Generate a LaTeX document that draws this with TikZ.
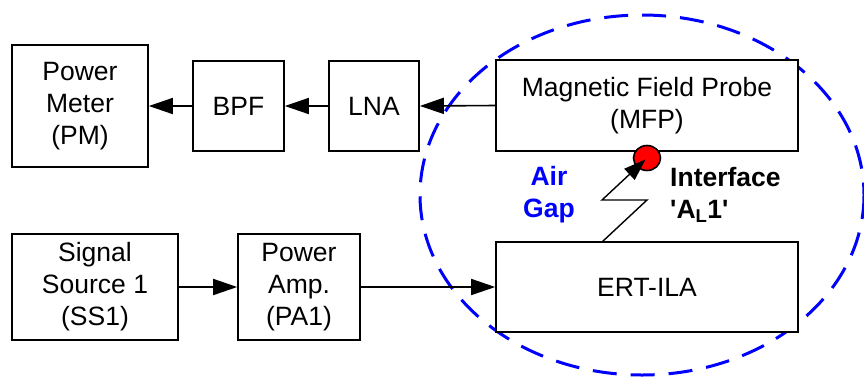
\documentclass[tikz,border=0pt]{standalone}
\usepackage{fontspec}
\setmainfont{Liberation Sans}
\usetikzlibrary{arrows.meta,shapes.geometric}
\begin{document}
\begin{tikzpicture}[x=1pt,y=-1pt,
  blk/.style={draw, line width=1.6pt, fill=white, inner sep=0pt, align=center,
    font=\fontsize{26.5}{32}\selectfont},
  conn/.style={line width=1.6pt, -{Triangle[length=24pt,width=16pt]}},
  lbl/.style={font=\fontsize{26.5}{32}\selectfont\bfseries, inner sep=0pt}]
\useasboundingbox (0,0) rectangle (864,376);
\draw[blue, line width=3pt, dash pattern=on 24pt off 14pt] (642,195) ellipse [x radius=222, y radius=180];
\node[blk, minimum width=136pt, minimum height=122pt] (pm) at (80,106) {Power\\Meter\\(PM)};
\node[blk, minimum width=91pt, minimum height=90pt] (bpf) at (238.5,106) {BPF};
\node[blk, minimum width=90pt, minimum height=90pt] (lna) at (374,106) {LNA};
\node[blk, minimum width=302pt, minimum height=91pt] (mfp) at (647,105.5) {Magnetic Field Probe\\(MFP)};
\node[blk, minimum width=166pt, minimum height=106pt] (ss1) at (95,287) {Signal\\Source 1\\(SS1)};
\node[blk, minimum width=122pt, minimum height=106pt] (pa1) at (299,287) {Power\\Amp.\\(PA1)};
\node[blk, minimum width=302pt, minimum height=90pt] (ert) at (647,287) {ERT-ILA};
\draw[conn] (mfp.west) -- (lna.east);
\draw[conn] (lna.west) -- (bpf.east);
\draw[conn] (bpf.west) -- (pm.east);
\draw[conn] (ss1.east) -- (pa1.west);
\draw[conn] (pa1.east) -- (ert.west);
\node[draw, line width=1.6pt, fill=red, ellipse, minimum width=27pt, minimum height=25pt, inner sep=0pt] (dot) at (647,158) {};
\coordinate (z0) at (602,242);
\coordinate (z1) at (647,200);
\coordinate (z2) at (602,200);
\draw[line width=1.4pt, -{Triangle[length=22pt,width=15pt]}, shorten >=2pt] (z0) -- (z1) -- (z2) -- (dot.center);
\node[lbl, blue, align=center] (air) at (549,195) {Air\\Gap};
\node[lbl, anchor=west, align=left] (intf) at (670,195) {Interface\\\textquotesingle A\textsubscript{L}1\textquotesingle};
\end{tikzpicture}
\end{document}
